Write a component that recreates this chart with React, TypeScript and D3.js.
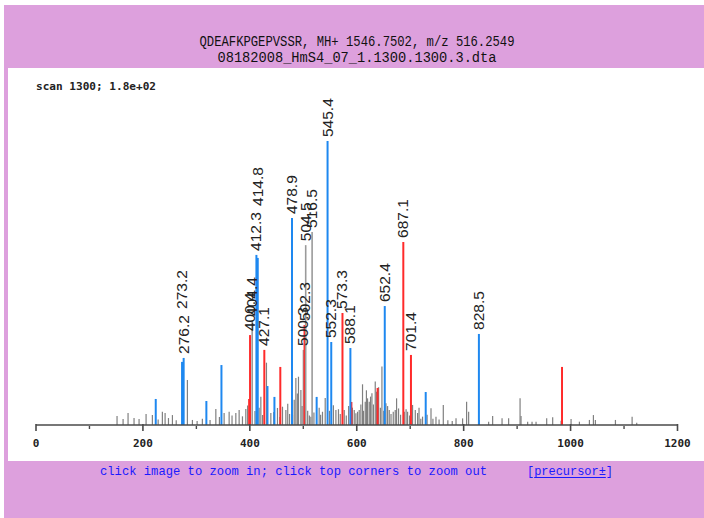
import React from 'react';
import * as d3 from 'd3';

// Header and footer text
const titleLines = [
  'QDEAFKPGEPVSSR, MH+ 1546.7502, m/z 516.2549',
  '08182008_HmS4_07_1.1300.1300.3.dta',
];
const scanLabel = 'scan 1300; 1.8e+02';
const footerText = 'click image to zoom in; click top corners to zoom out';
const precursorText = '[precursor\u00b1]';

// Axis ticks (m/z)
const majorTicks = [0, 200, 400, 600, 800, 1000, 1200];
const minorTicks = [100, 300, 500, 700, 900, 1100];

// Annotated fragment ions: m/z, intensity, series ('b' red, 'y' blue, 'n' unassigned)
const labelMz = [273.2, 276.2, 400.4, 404.4, 412.3, 414.8, 427.1, 478.9, 500.3, 502.3, 504.5, 516.5, 545.4, 552.3, 573.3, 588.1, 652.4, 687.1, 701.4, 828.5];
const labelIntensity = [40, 42.5, 57, 66.6, 107.8, 105.9, 47.6, 131.2, 47.6, 63.4, 114, 122.4, 180, 52.6, 71, 48.8, 75.4, 116, 44.4, 57.7];
const labelSeries = ['y', 'y', 'b', 'n', 'y', 'y', 'b', 'y', 'n', 'b', 'n', 'n', 'y', 'y', 'b', 'y', 'y', 'b', 'b', 'y'];

// Matched ions without a text label
const ionMz = [224, 318.7, 346.9, 398.7, 433, 446, 457, 525, 590, 639, 729, 984];
const ionIntensity = [16.5, 15.2, 38, 16.5, 24.7, 17.8, 36.8, 17.8, 14.6, 23.5, 20.9, 36.8];
const ionSeries = ['y', 'y', 'y', 'b', 'y', 'y', 'b', 'y', 'b', 'b', 'y', 'b'];

// Unmatched peaks
const noiseMz = [
  151.6, 162.9, 172.2, 183.4, 192.8, 205.9, 217.7, 228.5, 236.4, 241.5, 247.8, 255.2, 262.3, 283.2, 292.6, 301.4,
  311.2, 325.6, 336.4, 343.1, 351.9, 361.3, 366.7, 373.8, 380.0, 386.2, 392.5, 395.9, 409.6, 417.4, 420.6, 423.9,
  431.1, 439.3, 444.8, 451.7, 456.2, 461.1, 467.4, 470.9, 474.3, 479.8, 483.0, 486.1, 488.9, 491.0, 495.5, 497.8,
  508.2, 511.4, 514.2, 519.9, 529.7, 532.4, 535.9, 541.0, 549.0, 556.3, 561.0, 565.8, 569.2, 576.6, 580.4, 584.8,
  591.9, 595.3, 598.4, 601.5, 604.6, 607.7, 610.8, 612.6, 615.9, 618.1, 620.2, 623.4, 625.8, 628.4, 631.2, 634.6,
  637.0, 640.9, 644.2, 647.1, 650.5, 654.6, 657.7, 660.8, 664.1, 668.3, 672.0, 674.5, 678.2, 682.0, 688.9, 692.3,
  695.1, 698.9, 704.4, 709.5, 713.8, 716.5, 719.8, 723.1, 731.6, 738.9, 742.5, 748.2, 754.0, 761.9, 770.4, 778.6,
  785.7, 798.0, 805.5, 809.3, 829.3, 846.7, 854.2, 871.8, 884.1, 905.5, 907.3, 919.7, 927.9, 935.4, 955.3, 966.5,
  982.2, 1000.9, 1016.5, 1035.2, 1042.7, 1046.4, 1083.9, 1115.1, 1123.7,
];
const noiseIntensity = [
  5.7, 3.8, 7.6, 4.4, 3.8, 7.0, 6.3, 3.5, 8.4, 7.6, 4.4, 6.3, 3.0, 28.5, 3.2, 2.5,
  4.0, 3.2, 10.1, 5.1, 7.6, 8.4, 6.0, 7.6, 9.5, 5.5, 10.1, 12.3, 8.8, 11.0, 17.9, 6.3,
  39.5, 7.6, 8.2, 10.8, 5.0, 11.6, 9.5, 13.5, 7.0, 6.3, 16.0, 29.8, 20.0, 30.6, 22.2, 12.0,
  9.0, 6.0, 5.3, 8.0, 11.0, 6.5, 8.4, 17.1, 9.0, 12.5, 9.5, 10.0, 7.0, 9.5, 6.0, 12.0,
  11.0, 9.5, 7.5, 8.4, 9.5, 13.0, 25.8, 9.0, 14.8, 22.0, 16.9, 14.8, 18.0, 20.1, 13.0, 27.5,
  21.1, 24.0, 11.0, 37.0, 9.0, 13.8, 12.0, 9.5, 7.0, 8.4, 9.5, 16.9, 10.5, 6.5, 8.4, 10.0,
  8.4, 6.0, 12.7, 9.5, 7.6, 11.0, 4.0, 5.3, 6.5, 10.6, 4.0, 5.3, 3.5, 12.7, 3.0, 2.5,
  4.2, 4.2, 14.8, 8.4, 3.2, 2.1, 5.7, 4.2, 4.2, 16.9, 5.7, 2.1, 2.1, 2.1, 4.2, 4.9,
  2.7, 3.8, 2.1, 3.2, 6.3, 3.2, 3.2, 5.3, 1.5,
];

const seriesColor: Record<string, string> = { b: '#ff2a2a', y: '#1e88f0', n: '#9a9a9a' };

const W = 704;
const H = 518;

export default function App() {
  const x = d3.scaleLinear().domain([0, 1200]).range([36, 677.5]);
  const y = d3.scaleLinear().domain([0, 180]).range([425, 141]);
  const base = y(0);

  // Peak labels sit on top of their peak, strongest first; a label that lands
  // almost exactly on an already placed one is lifted above it.
  const LABEL_LEN = 39;
  const order = d3.range(labelMz.length).sort((a, b) => labelIntensity[b] - labelIntensity[a]);
  const placed: { x: number; start: number; end: number }[] = [];
  const labelPos: Record<number, number> = {};
  order.forEach((i) => {
    const px = x(labelMz[i]);
    let start = y(labelIntensity[i]) - 4;
    let moved = true;
    while (moved) {
      moved = false;
      for (const p of placed) {
        const overlap = Math.min(start, p.start) - Math.max(start - LABEL_LEN, p.end);
        if (Math.abs(p.x - px) < 4 && overlap > 30) {
          start = p.end - 6;
          moved = true;
        }
      }
    }
    placed.push({ x: px, start, end: start - LABEL_LEN });
    labelPos[i] = start;
  });

  const mono = "'Liberation Mono', 'DejaVu Sans Mono', monospace";

  // Footer link: the brackets are not underlined, only the word between them
  const linkX = 527;
  const linkLen = 86;
  const charW = linkLen / precursorText.length;

  return (
    <svg
      width={W}
      height={H}
      viewBox={`0 0 ${W} ${H}`}
      style={{ position: 'absolute', left: 0, top: 0, display: 'block' }}
    >
      <rect x={0} y={0} width={W} height={H} fill="#ffffff" />
      <rect x={4} y={5} width={W - 4} height={H - 5} fill="#dda0dd" />
      <rect x={8} y={68} width={W - 8} height={393} fill="#ffffff" />

      {/* Title */}
      <text x={357} y={46} fontFamily={mono} fontSize={14} textAnchor="middle" textLength={315} lengthAdjust="spacingAndGlyphs" fill="#111">
        {titleLines[0]}
      </text>
      <text x={357} y={62} fontFamily={mono} fontSize={14} textAnchor="middle" textLength={279} lengthAdjust="spacingAndGlyphs" fill="#111">
        {titleLines[1]}
      </text>

      <text x={36} y={90} fontFamily="'DejaVu Sans Mono', monospace" fontSize={11} fontWeight="bold" textLength={120} lengthAdjust="spacingAndGlyphs" fill="#222">
        {scanLabel}
      </text>

      {/* Unmatched peaks */}
      <g stroke="#808080" strokeWidth={1.2}>
        {noiseMz.map((mz, i) => (
          <line key={`n${i}`} x1={x(mz)} x2={x(mz)} y1={base} y2={y(noiseIntensity[i])} />
        ))}
      </g>

      {/* Matched ions */}
      <g strokeWidth={2}>
        {ionMz.map((mz, i) => (
          <line key={`i${i}`} x1={x(mz)} x2={x(mz)} y1={base} y2={y(ionIntensity[i])} stroke={seriesColor[ionSeries[i]]} />
        ))}
        {labelMz.map((mz, i) => (
          <line
            key={`l${i}`}
            x1={x(mz)}
            x2={x(mz)}
            y1={base}
            y2={y(labelIntensity[i])}
            stroke={seriesColor[labelSeries[i]]}
            strokeWidth={labelSeries[i] === 'n' ? 1.6 : 2}
          />
        ))}
      </g>

      {/* Peak labels */}
      <g fontFamily="'Liberation Sans', Arial, sans-serif" fontSize={15.5} fill="#222">
        {labelMz.map((mz, i) => (
          <text key={`t${i}`} transform={`translate(${x(mz) + 5},${labelPos[i]}) rotate(-90)`}>
            {mz.toFixed(1)}
          </text>
        ))}
      </g>

      {/* m/z axis */}
      <g stroke="#4a4a4a">
        <line x1={x(0)} x2={x(1200)} y1={base} y2={base} strokeWidth={1.6} />
        {majorTicks.map((t) => (
          <line key={`M${t}`} x1={x(t)} x2={x(t)} y1={base - 1} y2={base + 6} strokeWidth={1.6} />
        ))}
        {minorTicks.map((t) => (
          <line key={`m${t}`} x1={x(t)} x2={x(t)} y1={base + 1} y2={base + 4} strokeWidth={1.4} />
        ))}
      </g>
      <g fontFamily="'DejaVu Sans Mono', monospace" fontSize={11} fontWeight="bold" fill="#222" textAnchor="middle">
        {majorTicks.map((t) => (
          <text key={`L${t}`} x={x(t)} y={446.5}>
            {t}
          </text>
        ))}
      </g>

      {/* Footer */}
      <g fontFamily={mono} fontSize={13} fill="#1a1aff">
        <text x={100} y={475} textLength={387} lengthAdjust="spacingAndGlyphs">
          {footerText}
        </text>
        <text x={linkX} y={475} textLength={linkLen} lengthAdjust="spacingAndGlyphs">
          {precursorText}
        </text>
      </g>
      <line
        x1={linkX + charW}
        x2={linkX + linkLen - charW}
        y1={477.5}
        y2={477.5}
        stroke="#1a1aff"
        strokeWidth={1}
      />
    </svg>
  );
}
